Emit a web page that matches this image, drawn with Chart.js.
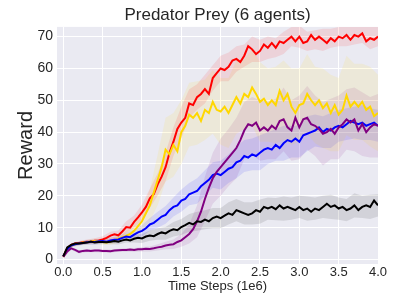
<!DOCTYPE html>
<html>
<head>
<meta charset="utf-8">
<script src="https://cdn.jsdelivr.net/npm/chart.js@4/dist/chart.umd.min.js"></script>
<style>
  body { margin: 0; background: #fff; }
  #wrap { width: 407px; height: 305px; }
</style>
</head>
<body>
<div id="wrap"><canvas id="chart" width="407" height="305"></canvas></div>
<script>
// time steps (1e6) for the mean curves, every 0.05
var steps = [0.00,0.05,0.10,0.15,0.20,0.25,0.30,0.35,0.40,0.45,0.50,0.55,0.60,0.65,0.70,0.75,0.80,0.85,0.90,0.95,
  1.00,1.05,1.10,1.15,1.20,1.25,1.30,1.35,1.40,1.45,1.50,1.55,1.60,1.65,1.70,1.75,1.80,1.85,1.90,1.95,
  2.00,2.05,2.10,2.15,2.20,2.25,2.30,2.35,2.40,2.45,2.50,2.55,2.60,2.65,2.70,2.75,2.80,2.85,2.90,2.95,
  3.00,3.05,3.10,3.15,3.20,3.25,3.30,3.35,3.40,3.45,3.50,3.55,3.60,3.65,3.70,3.75,3.80,3.85,3.90,3.95,4.00];

var redMean = [1.0,3.5,4.6,5.0,5.2,5.4,5.6,5.5,5.9,6.0,6.3,6.8,7.5,7.9,7.6,8.8,10.2,10.0,11.8,13.2,
  14.8,16.5,19.2,20.5,23.6,26.0,29.0,33.5,37.0,41.0,43.0,44.5,49.0,48.5,51.0,52.0,53.5,52.0,57.0,58.5,
  60.0,59.5,60.5,62.5,63.0,62.0,64.0,67.0,66.0,64.5,65.5,67.5,66.5,68.0,66.5,68.5,68.0,69.0,70.0,68.5,
  70.0,68.0,68.5,70.5,69.0,70.0,69.0,68.0,69.5,68.5,70.0,69.5,70.5,69.0,70.5,70.0,71.0,68.5,69.5,69.0,70.0];

var goldMean = [0.8,3.0,4.3,4.8,5.0,5.3,5.4,5.6,5.8,5.7,5.5,5.3,5.6,6.0,6.5,7.0,7.5,8.0,9.0,10.5,
  12.0,14.5,17.0,21.0,25.0,29.0,34.5,33.0,36.0,34.0,40.0,42.0,45.5,44.5,46.0,43.5,47.0,46.0,49.5,47.0,
  46.5,48.0,46.0,48.5,51.0,49.0,52.0,51.0,54.0,52.0,49.5,50.5,48.5,50.0,48.5,53.0,50.0,52.0,48.0,46.0,
  48.5,49.0,52.0,50.0,48.5,50.0,47.5,49.0,46.0,48.5,45.5,47.0,51.5,48.0,49.5,48.0,49.5,47.0,48.0,45.0,46.0];

var blueMean = [1.0,3.2,4.4,4.8,5.0,5.2,5.4,5.5,5.5,5.7,5.8,5.6,6.0,6.2,6.3,6.8,7.2,7.0,7.8,8.5,
  9.0,9.8,11.0,11.5,12.5,13.5,14.0,15.5,16.5,17.0,18.5,19.0,20.5,21.0,21.5,23.0,24.0,25.0,26.5,27.0,
  26.5,27.5,28.5,29.0,30.5,31.0,32.5,32.0,33.0,32.5,33.5,34.5,35.0,34.5,36.0,35.0,36.5,37.5,37.0,38.0,
  37.0,39.0,39.5,40.0,40.5,41.5,40.0,41.0,40.5,41.5,42.0,41.5,42.5,43.5,43.0,42.5,43.0,42.0,42.5,43.0,42.0];

var purpleMean = [0.8,2.5,3.5,3.0,2.4,2.7,2.8,2.7,2.8,2.8,2.7,2.7,2.6,2.8,2.9,3.0,3.0,3.1,3.0,3.2,
  3.2,3.4,3.3,3.5,3.8,4.0,4.4,4.6,4.8,5.5,6.0,7.0,8.0,9.5,12.0,15.0,19.0,22.5,25.5,27.5,
  29.0,30.5,32.0,33.5,35.0,37.5,40.5,42.5,42.0,43.0,40.5,41.5,40.5,42.0,41.0,43.5,44.0,41.5,40.5,44.5,
  41.5,44.0,44.5,42.5,42.0,41.0,39.5,40.0,41.0,39.5,41.5,42.5,44.0,43.0,44.0,40.5,42.5,40.0,41.5,42.5,42.0];

var blackMean = [1.0,3.8,4.6,5.0,5.0,5.2,5.3,5.6,5.3,5.5,5.5,5.4,5.6,5.8,5.6,6.0,6.3,6.0,6.5,6.8,
  6.6,7.2,7.5,7.3,8.0,8.5,8.2,9.0,9.5,9.2,10.2,10.8,11.5,11.0,12.0,11.8,12.5,12.0,13.0,13.5,
  13.0,13.8,14.5,14.0,15.5,15.0,14.5,14.0,14.5,15.5,15.0,16.5,16.0,16.5,15.8,17.0,16.0,16.5,16.0,15.5,
  16.5,15.5,16.0,15.0,16.0,15.5,16.5,17.5,16.5,17.0,16.0,16.5,15.5,16.0,17.0,15.5,16.5,17.0,16.5,18.5,17.0];

// half width of the shaded bands, every 0.1
var redSpread = [0.3,0.5,0.6,0.7,0.8,1.0,1.2,1.5,1.8,2.0,2.5,3.0,3.5,4.5,4.5,5.0,4.5,4.0,4.5,4.0,
  4.0,4.5,4.0,3.5,4.0,3.5,3.5,3.0,3.5,3.0,3.5,3.0,3.0,3.5,3.0,3.0,3.5,3.0,3.0,3.5,3.0];
var goldSpread = [0.3,0.5,0.6,0.7,0.8,0.8,1.0,1.2,1.5,2.0,3.0,5.0,8.0,10.0,10.0,10.0,10.0,10.0,9.5,10.0,
  10.5,11.0,11.5,11.0,12.0,12.5,11.5,12.0,12.5,12.0,11.5,12.5,12.0,12.5,12.0,11.5,12.5,12.0,12.0,12.5,12.0];
var blueSpread = [0.3,0.5,0.6,0.7,0.8,0.8,0.9,1.0,1.2,1.5,1.8,2.0,2.5,2.8,3.0,3.5,3.5,4.0,4.0,4.0,
  4.5,4.5,5.0,5.0,5.0,5.5,5.0,5.0,5.5,5.0,5.0,5.5,5.0,5.0,5.5,5.0,5.0,5.0,5.5,5.0,5.0];
var purpleSpread = [0.3,0.5,0.5,0.5,0.5,0.5,0.5,0.5,0.6,0.6,0.7,0.8,1.0,1.2,1.5,2.0,3.0,5.0,7.0,8.0,
  9.0,9.0,9.5,9.0,9.0,9.5,9.0,9.5,10.0,9.5,10.0,10.0,9.5,10.0,9.5,10.0,9.5,10.0,10.0,9.5,10.0];
var blackSpread = [0.3,0.5,0.5,0.6,0.6,0.7,0.8,0.9,1.0,1.2,1.4,1.6,1.8,2.0,2.3,2.5,2.8,3.0,3.0,3.2,
  3.2,3.5,3.5,3.5,3.5,3.8,3.5,3.5,3.8,3.5,3.5,3.8,3.5,3.5,3.8,3.5,3.5,3.8,3.5,3.8,3.5];

var xTicks = [0, 0.5, 1, 1.5, 2, 2.5, 3, 3.5, 4];
var yTicks = [0, 10, 20, 30, 40, 50, 60, 70];

var series = [
  { mean: redMean, spread: redSpread, color: "#ff0000", shade: "rgba(255,0,0,0.1)", order: 5 },
  { mean: goldMean, spread: goldSpread, color: "#ffd700", shade: "rgba(255,215,0,0.1)", order: 4 },
  { mean: blueMean, spread: blueSpread, color: "#0000ff", shade: "rgba(0,0,255,0.1)", order: 3 },
  { mean: purpleMean, spread: purpleSpread, color: "#800080", shade: "rgba(128,0,128,0.1)", order: 2 },
  { mean: blackMean, spread: blackSpread, color: "#000000", shade: "rgba(0,0,0,0.1)", order: 1 }
];

var datasets = [];
series.forEach(function(s) {
  var upper = [], lower = [];
  for (var k = 0; k < s.spread.length; k++) {
    var i = k * 2;
    upper.push({ x: steps[i], y: s.mean[i] + s.spread[k] });
    lower.push({ x: steps[i], y: s.mean[i] - s.spread[k] });
  }
  datasets.push({ data: upper, borderWidth: 0, pointRadius: 0, fill: "+1", backgroundColor: s.shade, order: 10 });
  datasets.push({ data: lower, borderWidth: 0, pointRadius: 0, fill: false, order: 10 });
});
series.forEach(function(s) {
  var pts = [];
  for (var i = 0; i < steps.length; i++) pts.push({ x: steps[i], y: s.mean[i] });
  datasets.push({ data: pts, borderColor: s.color, borderWidth: 2, pointRadius: 0, fill: false, order: s.order });
});

var plotBg = {
  id: "plotBg",
  beforeDraw: function(chart) {
    var a = chart.chartArea, ctx = chart.ctx;
    ctx.save();
    ctx.fillStyle = "#eaeaf2";
    ctx.fillRect(a.left, a.top, a.right - a.left, a.bottom - a.top);
    ctx.restore();
  }
};

Chart.defaults.font.family = "'Liberation Sans', Arial, sans-serif";
Chart.defaults.color = "#262626";

new Chart(document.getElementById("chart"), {
  type: "line",
  data: { datasets: datasets },
  plugins: [plotBg],
  options: {
    responsive: false,
    animation: false,
    events: [],
    layout: { padding: { left: 0, right: 29, top: 0, bottom: 0 } },
    plugins: {
      legend: { display: false },
      tooltip: { enabled: false },
      title: {
        display: true,
        text: "Predator Prey (6 agents)",
        fullSize: false,
        font: { size: 17, weight: "normal" },
        color: "#262626",
        padding: { top: 5, bottom: 1.5 }
      }
    },
    scales: {
      x: {
        type: "linear",
        min: -0.08,
        max: 4.0,
        afterBuildTicks: function(s) { s.ticks = xTicks.map(function(v) { return { value: v }; }); },
        afterFit: function(s) { s.height = 41; },
        grid: { color: "#ffffff", lineWidth: 1, drawTicks: false },
        border: { display: false },
        ticks: { padding: 1, maxRotation: 0, autoSkip: false, font: { size: 13 }, color: "#262626",
          callback: function(v) { return v.toFixed(1); } },
        title: { display: true, text: "Time Steps (1e6)", font: { size: 13 }, color: "#262626",
          padding: { top: 0, bottom: 11 } }
      },
      y: {
        min: -1.42,
        max: 73.05,
        afterBuildTicks: function(s) { s.ticks = yTicks.map(function(v) { return { value: v }; }); },
        afterFit: function(s) { s.width = 57; },
        grid: { color: "#ffffff", lineWidth: 1, drawTicks: false },
        border: { display: false },
        ticks: { padding: 4, font: { size: 14 }, color: "#262626" },
        title: { display: true, text: "Reward", font: { size: 20 }, color: "#262626",
          padding: { top: 14.5, bottom: 0 } }
      }
    }
  }
});
</script>
</body>
</html>
